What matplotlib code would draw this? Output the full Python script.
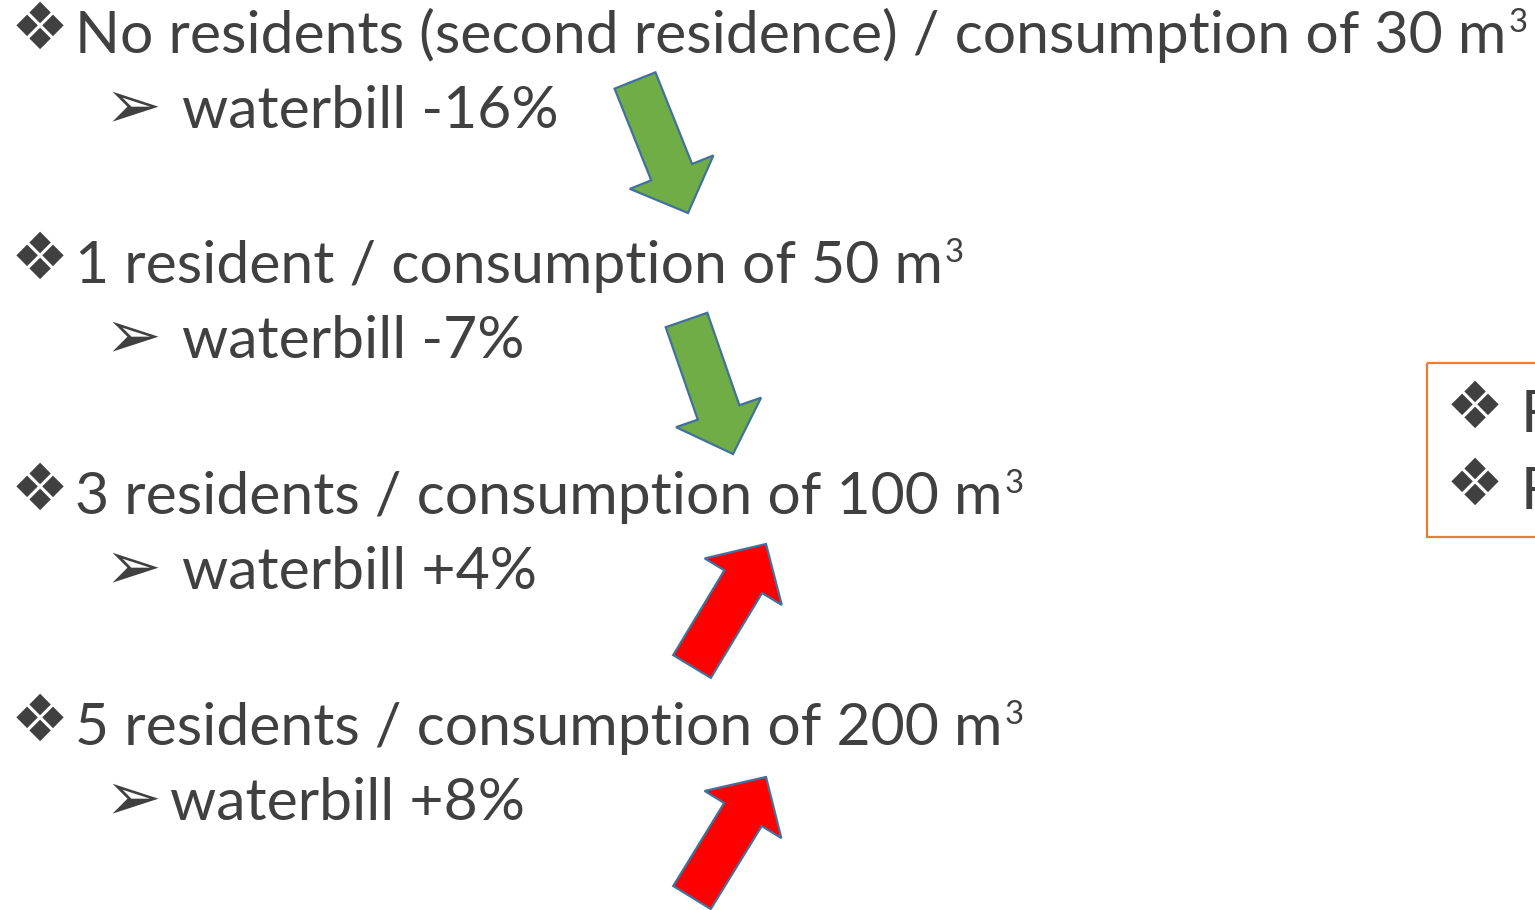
import numpy as np
import matplotlib
matplotlib.use("Agg")
import matplotlib.pyplot as plt
from matplotlib.patches import Polygon, Rectangle

W, H = 1535, 910

# slide text
main_labels = [
    "No residents (second residence) / consumption of 30 m\u00b3",
    "1 resident / consumption of 50 m\u00b3",
    "3 residents / consumption of 100 m\u00b3",
    "5 residents / consumption of 200 m\u00b3",
]
sub_labels = ["waterbill -16%", "waterbill -7%", "waterbill +4%", "waterbill +8%"]
box_labels = ["F", "F"]

# block arrows: tail centre and tip (pixels), fill colour
arrow_tails = [(635, 80.5), (686.5, 320), (692, 666.5), (692, 897.5)]
arrow_tips = [(688, 213), (733, 454), (766, 544), (766, 777)]
arrow_colors = ["#70AD47", "#70AD47", "#FF0000", "#FF0000"]

text_color = "#404040"
font = "Lato"


def block_arrow(tail, tip, shaft_w=44, head_w=90, head_len=44):
    tail = np.array(tail, float)
    tip = np.array(tip, float)
    d = tip - tail
    u = d / np.hypot(*d)
    n = np.array([-u[1], u[0]])
    base = tip - u * head_len
    pts = [
        tail + n * shaft_w / 2,
        base + n * shaft_w / 2,
        base + n * head_w / 2,
        tip,
        base - n * head_w / 2,
        base - n * shaft_w / 2,
        tail - n * shaft_w / 2,
    ]
    return np.array(pts)


fig = plt.figure(figsize=(W / 100, H / 100), dpi=100)
ax = fig.add_axes([0, 0, 1, 1])
ax.set_xlim(0, W)
ax.set_ylim(H, 0)
ax.axis("off")

# find font size so the first line spans about 1450 px
probe = ax.text(75, 53, main_labels[0], fontsize=40, family=font)
fig.canvas.draw()
width = probe.get_window_extent().width
probe.remove()
fs = 40 * 1450 / width

main_y = [53, 283, 514, 745]
sub_y = [128, 358, 589, 820]
sub_x = [182, 182, 182, 170]

renderer = fig.canvas.get_renderer()
for i, lab in enumerate(main_labels):
    ax.text(40, main_y[i] - 22, "\u2756", fontsize=fs * 1.1, family="DejaVu Sans",
            color=text_color, ha="center", va="center")
    base, sup = lab.split("\u00b3")[0], "3"
    t = ax.text(75, main_y[i], base, fontsize=fs, family=font, color=text_color,
                va="baseline")
    # larger superscript than Lato's own ³ glyph, closer to the slide font
    x_end = t.get_window_extent(renderer).x1
    ax.text(x_end + 2, main_y[i] - 21, sup, fontsize=fs * 0.56, family=font,
            color=text_color, va="baseline")
    ax.text(133, sub_y[i] - 20, "\u27A2", fontsize=fs * 1.15, family="DejaVu Sans",
            color=text_color, ha="center", va="center")
    ax.text(sub_x[i], sub_y[i], sub_labels[i], fontsize=fs, family=font,
            color=text_color, va="baseline")

for tail, tip, c in zip(arrow_tails, arrow_tips, arrow_colors):
    ax.add_patch(Polygon(block_arrow(tail, tip), closed=True, facecolor=c,
                         edgecolor="#41719C", linewidth=1.6, joinstyle="miter"))

# orange box on the right, cut by the slide edge
ax.add_patch(Rectangle((1427, 363), 200, 174, facecolor="none",
                       edgecolor="#ED7D31", linewidth=1.6))
box_y = [432, 509]
for j, lab in enumerate(box_labels):
    ax.text(1475, box_y[j] - 22, "\u2756", fontsize=fs * 1.1, family="DejaVu Sans",
            color=text_color, ha="center", va="center")
    ax.text(1521, box_y[j], lab, fontsize=fs, family=font, color=text_color, va="baseline")

fig.savefig("out.png", dpi=100)
